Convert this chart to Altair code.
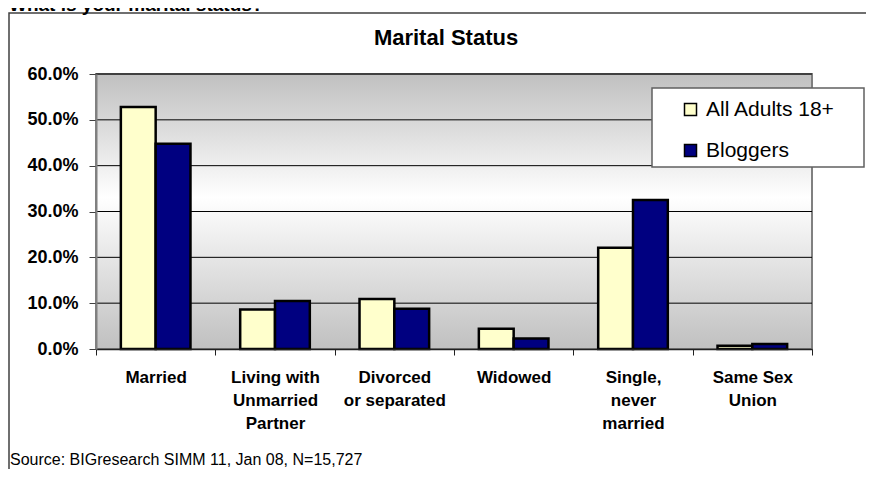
import altair as alt
import pandas as pd

# ---- data ----
categories = ["Married", "Living with|Unmarried|Partner", "Divorced|or separated",
              "Widowed", "Single,|never|married", "Same Sex|Union"]
series = ["All Adults 18+", "Bloggers"]
all_adults = [0.528, 0.086, 0.109, 0.044, 0.221, 0.007]
bloggers = [0.448, 0.105, 0.088, 0.023, 0.325, 0.011]
y_ticks = [0.0, 0.1, 0.2, 0.3, 0.4, 0.5, 0.6]
colors = ["#FFFFCC", "#000080"]

top_title = "What is your marital status?"
chart_title = "Marital Status"
source_text = "Source: BIGresearch SIMM 11, Jan 08, N=15,727"

rows = []
for c, a, b in zip(categories, all_adults, bloggers):
    rows.append({"cat": c, "series": series[0], "value": a})
    rows.append({"cat": c, "series": series[1], "value": b})
df = pd.DataFrame(rows)
grid_df = pd.DataFrame({"value": y_ticks[1:]})

W, H = 716, 275
PAD = {"left": 88, "top": 66, "right": 54, "bottom": 120}
FONT = "Liberation Sans"

one = alt.Data(values=[{"k": 1}])

yscale = alt.Scale(domain=[0, 0.6], nice=False)
yaxis = alt.Axis(title=None, values=y_ticks, format=".1%", labelFont=FONT,
                 labelFontSize=18, labelFontWeight="bold", labelColor="black",
                 tickSize=7, tickColor="#404040", domainColor="#808080",
                 domainWidth=2, labelPadding=11, grid=False, zindex=1)

frame = alt.Chart(one).mark_rect(fill=None, stroke="#404040", strokeWidth=1.5).encode(
    x=alt.value(-87), x2=alt.value(W + 100), y=alt.value(-61), y2=alt.value(H + 200)
)

gradient = alt.LinearGradient(
    gradient="linear",
    stops=[alt.GradientStop(color="#C0C0C0", offset=0),
           alt.GradientStop(color="#FFFFFF", offset=0.45),
           alt.GradientStop(color="#C0C0C0", offset=1)],
    x1=0, x2=0, y1=0, y2=1,
)
background = alt.Chart(one).mark_rect(color=gradient, stroke="#808080", strokeWidth=2).encode(
    x=alt.value(0), x2=alt.value(W), y=alt.value(0), y2=alt.value(H)
)

grid = alt.Chart(grid_df).mark_rule(color="black", strokeWidth=1).encode(
    y=alt.Y("value:Q", scale=yscale, axis=yaxis),
    x=alt.value(0), x2=alt.value(W),
)

bars = alt.Chart(df).mark_bar(stroke="black", strokeWidth=2.5).encode(
    x=alt.X("cat:N", sort=categories, scale=alt.Scale(paddingInner=0, paddingOuter=0),
            axis=alt.Axis(title=None, labelAngle=0, labelExpr="split(datum.label, '|')",
                          labelFont=FONT, labelFontSize=17, labelFontWeight="bold",
                          labelColor="black", labelLineHeight=23, labelPadding=14,
                          tickSize=6, tickBand="extent", tickColor="#202020",
                          domainColor="#202020", domainWidth=1.5, labelLimit=200, zindex=1)),
    xOffset=alt.XOffset("series:N", sort=series,
                        scale=alt.Scale(paddingInner=0, paddingOuter=0.714)),
    y=alt.Y("value:Q", scale=yscale, axis=yaxis),
    fill=alt.Fill("series:N", sort=series, scale=alt.Scale(domain=series, range=colors),
                  legend=alt.Legend(title=None, orient="none", legendX=584, legendY=25,
                                    symbolType="square", symbolSize=144,
                                    symbolStrokeColor="black", symbolStrokeWidth=1.5,
                                    labelFont=FONT, labelFontSize=21, labelColor="black",
                                    labelOffset=5, rowPadding=19, padding=0,
                                    labelLimit=300)),
)

legend_box = alt.Chart(one).mark_rect(fill="white", stroke="#606060", strokeWidth=1.5).encode(
    x=alt.value(556), x2=alt.value(768), y=alt.value(14), y2=alt.value(93)
)

title_text = alt.Chart(one).mark_text(
    text=chart_title, font=FONT, fontSize=22, fontWeight="bold", color="black",
    align="center", baseline="alphabetic"
).encode(x=alt.value(350), y=alt.value(-29))

top_text = alt.Chart(one).mark_text(
    text=top_title, font=FONT, fontSize=19, fontWeight="bold", color="black",
    align="left", baseline="alphabetic"
).encode(x=alt.value(-87), y=alt.value(-63))

src_text = alt.Chart(one).mark_text(
    text=source_text, font=FONT, fontSize=16, color="black",
    align="left", baseline="alphabetic"
).encode(x=alt.value(-86), y=alt.value(H + 116))

chart = alt.layer(frame, background, grid, bars, legend_box, title_text, top_text, src_text).properties(
    width=W, height=H, padding=PAD, autosize=alt.AutoSizeParams(type="none"),
    background="white",
).configure_view(stroke=None)

chart.save("out.html", embed_options={"renderer": "svg", "actions": False})
